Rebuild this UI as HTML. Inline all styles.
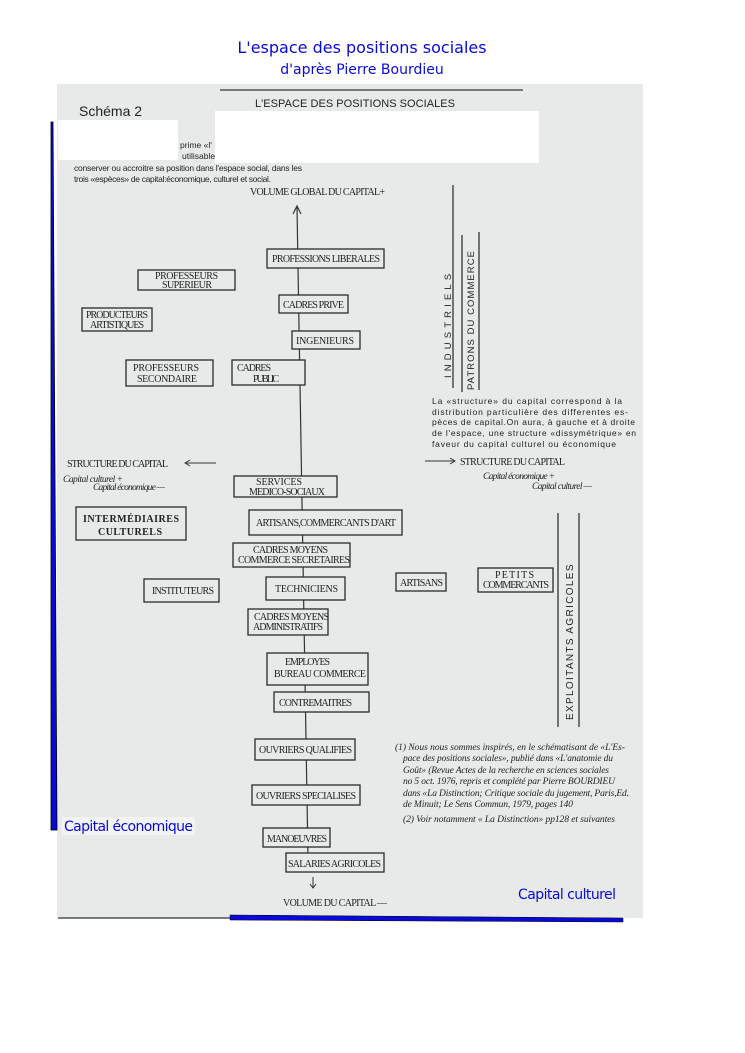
<!DOCTYPE html>
<html><head><meta charset="utf-8"><style>
html,body{margin:0;padding:0;background:#fff;}
svg{display:block;}
.b{fill:#e8eaea;stroke:#2a2a2a;stroke-width:1.3;}
.t{font-family:"Liberation Serif",serif;font-size:10px;fill:#222;}
.s{font-family:"Liberation Sans",sans-serif;fill:#222;}
.i{font-family:"Liberation Serif",serif;font-style:italic;font-size:9.5px;fill:#222;}
.bl{font-family:"DejaVu Sans","Liberation Sans",sans-serif;fill:#0a0ad8;}
</style></head><body>
<svg width="745" height="1053" viewBox="0 0 745 1053" xmlns="http://www.w3.org/2000/svg">
<rect x="57" y="84" width="586" height="834" fill="#e8eaea"/>
<text class="bl" x="362" y="53" font-size="16" text-anchor="middle">L'espace des positions sociales</text>
<text class="bl" x="362" y="74" font-size="14" text-anchor="middle">d'après Pierre Bourdieu</text>
<line x1="220" y1="90" x2="523" y2="90" stroke="#333" stroke-width="1.2"/>
<text class="s" x="79" y="116" font-size="14">Schéma 2</text>
<text class="s" x="255" y="107" font-size="11" textLength="200">L'ESPACE DES POSITIONS SOCIALES</text>
<rect x="58" y="120" width="120" height="40" fill="#fff"/>
<rect x="215" y="111" width="324" height="52" fill="#fff"/>
<text class="s" x="180" y="148" font-size="8.5">prime «l'</text>
<text class="s" x="182" y="159" font-size="8.5">utilisable</text>
<text class="s" x="74" y="171" font-size="8.5" textLength="228">conserver ou accroitre sa position dans l'espace social, dans les</text>
<text class="s" x="74" y="182" font-size="8.5" textLength="197">trois «espèces» de capital:économique, culturel et social.</text>
<text class="t" x="250" y="195" textLength="135">VOLUME GLOBAL DU CAPITAL+</text>
<line x1="297" y1="207" x2="308" y2="858" stroke="#333" stroke-width="1.2"/>
<path d="M293 214 L297 206 L301 214" fill="none" stroke="#333" stroke-width="1.2"/>
<g>
<rect class="b" x="267" y="249" width="117" height="19"/><text class="t" x="272" y="262" textLength="108">PROFESSIONS LIBERALES</text>
<rect class="b" x="138" y="270" width="97" height="20"/><text class="t" x="155" y="279" textLength="63">PROFESSEURS</text><text class="t" x="162" y="288" textLength="50">SUPERIEUR</text>
<rect class="b" x="279" y="295" width="69" height="18"/><text class="t" x="283" y="308" textLength="61">CADRES PRIVE</text>
<rect class="b" x="82" y="308" width="70" height="23"/><text class="t" x="86" y="318" textLength="62">PRODUCTEURS</text><text class="t" x="90" y="328" textLength="54">ARTISTIQUES</text>
<rect class="b" x="292" y="331" width="68" height="18"/><text class="t" x="296" y="344" textLength="58">INGENIEURS</text>
<rect class="b" x="126" y="360" width="87" height="26"/><text class="t" x="133" y="371" textLength="66">PROFESSEURS</text><text class="t" x="137" y="382" textLength="60">SECONDAIRE</text>
<rect class="b" x="232" y="360" width="73" height="25"/><text class="t" x="237" y="371" textLength="34">CADRES</text><text class="t" x="253" y="382" textLength="26">PUBLIC</text>
<rect class="b" x="234" y="476" width="103" height="21"/><text class="t" x="256" y="485" textLength="46">SERVICES</text><text class="t" x="249" y="495" textLength="76">MEDICO-SOCIAUX</text>
<rect class="b" x="76" y="507" width="110" height="33"/><text class="t" x="83" y="522" font-weight="bold" font-size="11" textLength="96">INTERMÉDIAIRES</text><text class="t" x="98" y="535" font-weight="bold" font-size="11" textLength="64">CULTURELS</text>
<rect class="b" x="249" y="510" width="153" height="25"/><text class="t" x="256" y="526" textLength="140">ARTISANS,COMMERCANTS D'ART</text>
<rect class="b" x="233" y="543" width="117" height="24"/><text class="t" x="253" y="553" textLength="75">CADRES MOYENS</text><text class="t" x="238" y="563" textLength="112">COMMERCE SECRETAIRES</text>
<rect class="b" x="144" y="579" width="75" height="23"/><text class="t" x="152" y="594" textLength="62">INSTITUTEURS</text>
<rect class="b" x="266" y="577" width="79" height="23"/><text class="t" x="275" y="592" textLength="63">TECHNICIENS</text>
<rect class="b" x="396" y="573" width="50" height="18"/><text class="t" x="400" y="586" textLength="43">ARTISANS</text>
<rect class="b" x="478" y="568" width="75" height="24"/><text class="t" x="495" y="578" textLength="39">PETITS</text><text class="t" x="483" y="588" textLength="66">COMMERCANTS</text>
<rect class="b" x="248" y="609" width="80" height="26"/><text class="t" x="254" y="620" textLength="75">CADRES MOYENS</text><text class="t" x="253" y="630" textLength="70">ADMINISTRATIFS</text>
<rect class="b" x="267" y="653" width="101" height="32"/><text class="t" x="285" y="665" textLength="45">EMPLOYES</text><text class="t" x="274" y="677" textLength="92">BUREAU  COMMERCE</text>
<rect class="b" x="274" y="692" width="95" height="20"/><text class="t" x="279" y="706" textLength="73">CONTREMAITRES</text>
<rect class="b" x="255" y="739" width="100" height="21"/><text class="t" x="259" y="753" textLength="93">OUVRIERS QUALIFIES</text>
<rect class="b" x="252" y="785" width="108" height="20"/><text class="t" x="256" y="799" textLength="100">OUVRIERS SPECIALISES</text>
<rect class="b" x="263" y="828" width="67" height="19"/><text class="t" x="267" y="842" textLength="60">MANOEUVRES</text>
<rect class="b" x="286" y="853" width="98" height="19"/><text class="t" x="288" y="867" textLength="93">SALARIES AGRICOLES</text>
</g>
<path d="M313 877 L313 888 M310 884 L313 888 L316 884" fill="none" stroke="#333" stroke-width="1"/>
<text class="t" x="283" y="906" textLength="104">VOLUME DU CAPITAL —</text>
<line x1="453" y1="185" x2="453" y2="388" stroke="#333" stroke-width="1.3"/>
<line x1="462" y1="235" x2="462" y2="392" stroke="#333" stroke-width="1.3"/>
<line x1="479" y1="232" x2="479" y2="390" stroke="#333" stroke-width="1.3"/>
<text class="s" transform="translate(451,378) rotate(-90)" font-size="9.5" letter-spacing="2.8" fill="#333" textLength="107">INDUSTRIELS</text>
<text class="s" transform="translate(474,390) rotate(-90)" font-size="9.5" letter-spacing="1" fill="#333" textLength="140">PATRONS DU COMMERCE</text>
<line x1="558" y1="513" x2="558" y2="727" stroke="#333" stroke-width="1.3"/>
<line x1="579" y1="513" x2="579" y2="727" stroke="#333" stroke-width="1.3"/>
<text class="s" transform="translate(573,720) rotate(-90)" font-size="10" letter-spacing="1.5" fill="#333" textLength="157">EXPLOITANTS AGRICOLES</text>
<g class="s" font-size="8.5">
<text x="432" y="404" textLength="190">La «structure» du capital correspond à la</text>
<text x="432" y="415" textLength="196">distribution particulière des differentes es-</text>
<text x="432" y="425" textLength="203">pèces de capital.On aura, à gauche et à droite</text>
<text x="432" y="436" textLength="204">de l'espace, une structure  «dissymétrique» en</text>
<text x="432" y="447" textLength="184">faveur du capital culturel ou économique</text>
</g>
<path d="M425 461 L454 461 M450 458 L455 461 L450 464" fill="none" stroke="#333" stroke-width="1"/>
<text class="t" x="460" y="465" textLength="105">STRUCTURE DU CAPITAL</text>
<text class="i" x="483" y="479" textLength="72">Capital économique +</text>
<text class="i" x="532" y="489" textLength="60">Capital culturel —</text>
<text class="t" x="67" y="467" textLength="101">STRUCTURE DU CAPITAL</text>
<path d="M185 463 L216 463 M190 460 L185 463 L190 466" fill="none" stroke="#333" stroke-width="1"/>
<text class="i" x="63" y="482" textLength="60">Capital culturel +</text>
<text class="i" x="93" y="490" textLength="72">Capital économique —</text>
<g class="i" font-size="9.5">
<text x="395" y="750" textLength="230">(1) Nous nous sommes inspirés, en le schématisant de «L'Es-</text>
<text x="403" y="761" textLength="210">pace des positions sociales», publié dans «L'anatomie du</text>
<text x="403" y="773" textLength="206">Goût» (Revue Actes de la recherche en sciences sociales</text>
<text x="403" y="784" textLength="212">no 5 oct. 1976, repris et complété par Pierre BOURDIEU</text>
<text x="403" y="796" textLength="226">dans  «La Distinction; Critique sociale du jugement, Paris,Ed.</text>
<text x="403" y="807" textLength="170">de Minuit; Le Sens Commun, 1979, pages 140</text>
<text x="403" y="822" textLength="212">(2) Voir notamment « La Distinction» pp128 et suivantes</text>
</g>
<polygon points="51,122 53,122 57,830 51,830" fill="#0a0ad8" stroke="#000" stroke-width="0.8"/>
<rect x="62" y="817" width="133" height="18" fill="#f2f3f3"/>
<text class="bl" x="64" y="831" font-size="14" textLength="129">Capital économique</text>
<text class="bl" x="518" y="899" font-size="14" textLength="98">Capital culturel</text>
<line x1="58" y1="918" x2="230" y2="918" stroke="#000" stroke-width="1"/>
<polygon points="230,915 623,918 623,922 230,920" fill="#0a0ad8" stroke="#000" stroke-width="0.5"/>
</svg>
</body></html>
